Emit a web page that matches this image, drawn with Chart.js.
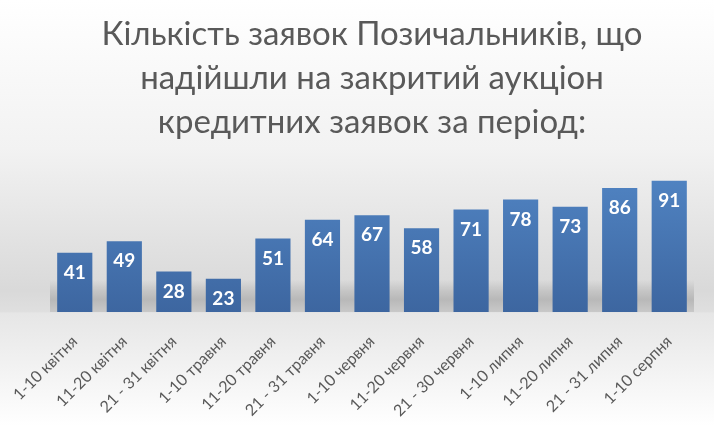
<!DOCTYPE html>
<html>
<head>
<meta charset="utf-8">
<script src="https://cdn.jsdelivr.net/npm/chart.js@4.4.0/dist/chart.umd.min.js"></script>
<style>
    body { margin: 0; background: #fff; }
    #wrap { width: 714px; height: 426px; }
</style>
</head>
<body>
<div id="wrap"><canvas id="chart" width="714" height="426"></canvas></div>
<script>
/*============================
  ЗАЯВКИ ЗА ПЕРІОД
=============================*/

let periods = ['1-10 квітня', '11-20 квітня', '21 - 31 квітня', '1-10 травня', '11-20 травня', '21 - 31 травня',
    '1-10 червня', '11-20 червня', '21 - 30 червня', '1-10 липня', '11-20 липня', '21 - 31 липня', '1-10 серпня'];
let requests = [41, 49, 28, 23, 51, 64, 67, 58, 71, 78, 73, 86, 91];
let titleLines = ['Кількість заявок Позичальників, що', 'надійшли на закритий аукціон', 'кредитних заявок за період:'];

Chart.defaults.font.family = 'Lato, sans-serif';
Chart.defaults.color = '#595959';


// background with grey "floor" band
const backdrop = {
    id: 'backdrop',
    beforeDraw(chart) {
        const ctx = chart.ctx, a = chart.chartArea, h = chart.height;
        ctx.save();
        let g = ctx.createLinearGradient(0, 0, 0, h);
        g.addColorStop(0, '#ffffff');
        g.addColorStop(0.35, '#f2f2f2');
        g.addColorStop(a.bottom / h - 0.05, '#d9d9d9');
        g.addColorStop(a.bottom / h, '#dfdfdf');
        g.addColorStop(a.bottom / h + 0.002, '#e6e6e6');
        g.addColorStop(1, '#ffffff');
        ctx.fillStyle = g;
        ctx.fillRect(0, 0, chart.width, h);

        // shadow behind the bars
        let s = ctx.createLinearGradient(0, a.bottom - 32, 0, a.bottom);
        s.addColorStop(0, 'rgba(0,0,0,0)');
        s.addColorStop(0.6, 'rgba(0,0,0,0.16)');
        s.addColorStop(1, 'rgba(0,0,0,0.10)');
        ctx.fillStyle = s;
        ctx.fillRect(a.left, a.bottom - 32, a.right - a.left, 32);
        ctx.restore();
    }
};

// white numbers inside bars
const valueLabels = {
    id: 'valueLabels',
    afterDatasetsDraw(chart) {
        const ctx = chart.ctx;
        ctx.save();
        ctx.fillStyle = '#ffffff';
        ctx.font = 'bold 19px Lato, sans-serif';
        ctx.textAlign = 'center';
        ctx.textBaseline = 'middle';
        chart.getDatasetMeta(0).data.forEach((bar, i) => {
            ctx.fillText(requests[i], bar.x, bar.y + 20);
        });
        ctx.restore();
    }
};

function barFill(context) {
    const a = context.chart.chartArea;
    if (!a) return '#4a7ab8';
    const g = context.chart.ctx.createLinearGradient(0, a.top, 0, a.bottom);
    g.addColorStop(0, '#5185c4');
    g.addColorStop(1, '#3d66a0');
    return g;
}

function displayRequestsChart() {
    let requestsCtx = document.querySelector('#chart').getContext('2d');
    let requestsBarChart;
    requestsBarChart = new Chart(requestsCtx, {
        type: 'bar',
        data: {
            labels: periods,
            datasets: [{
                label: 'Заявки',
                data: requests,
                backgroundColor: barFill,
                barPercentage: 0.71,
                categoryPercentage: 1
            }]
        },
        options: {
            responsive: false,
            animation: false,
            layout: {
                padding: { left: 50, right: 20, top: 0, bottom: 0 }
            },
            scales: {
                x: {
                    grid: { display: false },
                    border: { display: false },
                    afterFit(scale) { scale.height = 114; },
                    ticks: {
                        maxRotation: 45,
                        minRotation: 45,
                        font: { size: 16 },
                        color: '#595959',
                        padding: 12
                    }
                },
                y: {
                    display: false,
                    min: 0,
                    max: 100
                }
            },
            plugins: {
                legend: { display: false },
                tooltip: { enabled: false },
                title: {
                    display: true,
                    text: titleLines,
                    color: '#595959',
                    font: { size: 33, weight: 'normal', lineHeight: 1.32 },
                    padding: { top: 13, bottom: 24 }
                }
            }
        },
        plugins: [backdrop, valueLabels]
    });
}
displayRequestsChart();
</script>
</body>
</html>
